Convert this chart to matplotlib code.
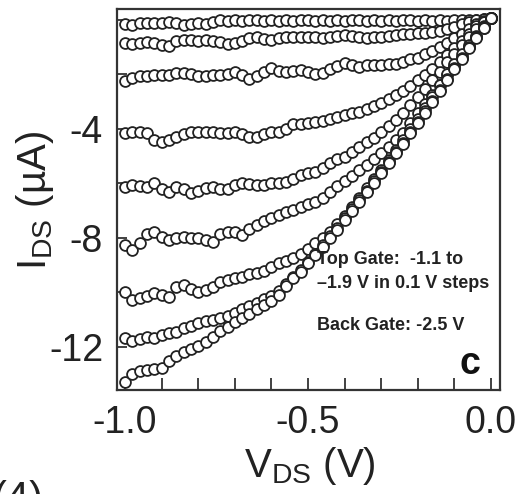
import numpy as np
import matplotlib
matplotlib.use("Agg")
import matplotlib.pyplot as plt
from matplotlib.ticker import MultipleLocator, FixedLocator

plt.rcParams['font.family'] = ['Liberation Sans', 'DejaVu Sans']
plt.rcParams['mathtext.fontset'] = 'custom'
plt.rcParams['mathtext.rm'] = 'Liberation Sans'
plt.rcParams['mathtext.it'] = 'Liberation Sans:italic'
plt.rcParams['mathtext.bf'] = 'Liberation Sans:bold'
plt.rcParams['axes.unicode_minus'] = False

# V_DS sweep (V)
vds = [-1.00, -0.98, -0.96, -0.94, -0.92, -0.90, -0.88, -0.86, -0.84, -0.82,
       -0.80, -0.78, -0.76, -0.74, -0.72, -0.70, -0.68, -0.66, -0.64, -0.62,
       -0.60, -0.58, -0.56, -0.54, -0.52, -0.50, -0.48, -0.46, -0.44, -0.42,
       -0.40, -0.38, -0.36, -0.34, -0.32, -0.30, -0.28, -0.26, -0.24, -0.22,
       -0.20, -0.18, -0.16, -0.14, -0.12, -0.10, -0.08, -0.06, -0.04, -0.02,
       0.00]

# I_DS (uA) for top gate -1.1 ... -1.9 V
ids_tg11 = [-0.15, -0.18, -0.12, -0.10, -0.12, -0.10, -0.08, -0.12, -0.20, -0.15,
            -0.10, -0.14, -0.08, -0.02, -0.03, -0.02, -0.04, -0.02, -0.01, -0.03,
            -0.02, -0.04, -0.02, -0.03, -0.01, -0.02, -0.03, -0.02, -0.04, -0.02,
            -0.03, -0.01, -0.02, -0.03, -0.02, -0.04, -0.02, -0.03, -0.02, -0.01,
            -0.03, -0.02, -0.04, -0.02, -0.03, -0.02, -0.02, -0.01, 0.00, 0.02,
            0.08]
ids_tg12 = [-0.85, -0.90, -0.86, -0.80, -0.86, -0.92, -0.94, -0.78, -0.74, -0.75,
            -0.77, -0.73, -0.76, -0.82, -0.89, -0.86, -0.76, -0.67, -0.61, -0.70,
            -0.72, -0.67, -0.62, -0.63, -0.64, -0.61, -0.64, -0.66, -0.62, -0.58,
            -0.55, -0.58, -0.62, -0.65, -0.64, -0.61, -0.58, -0.55, -0.53, -0.50,
            -0.49, -0.48, -0.45, -0.40, -0.33, -0.26, -0.16, -0.08, -0.02, 0.02,
            0.08]
ids_tg13 = [-2.24, -2.12, -2.07, -2.05, -2.02, -2.01, -2.02, -1.96, -1.94, -1.97,
            -2.05, -2.06, -2.04, -2.01, -1.98, -1.92, -2.02, -2.18, -2.05, -1.90,
            -1.77, -1.86, -1.92, -1.88, -1.84, -1.91, -2.00, -1.96, -1.80, -1.68,
            -1.58, -1.66, -1.72, -1.67, -1.65, -1.65, -1.63, -1.60, -1.54, -1.45,
            -1.38, -1.26, -1.13, -0.99, -0.84, -0.68, -0.50, -0.34, -0.16, -0.04,
            0.08]
ids_tg14 = [-4.15, -4.12, -4.13, -4.16, -4.40, -4.48, -4.42, -4.29, -4.17, -4.13,
            -4.11, -4.10, -4.13, -4.15, -4.14, -4.11, -4.18, -4.30, -4.31, -4.18,
            -4.12, -4.10, -4.02, -3.82, -3.83, -3.77, -3.74, -3.70, -3.63, -3.56,
            -3.50, -3.43, -3.38, -3.27, -3.17, -3.04, -2.92, -2.77, -2.60, -2.42,
            -2.22, -2.02, -1.80, -1.56, -1.30, -1.04, -0.76, -0.50, -0.24, -0.06,
            0.08]
ids_tg15 = [-6.13, -6.07, -6.10, -6.12, -6.00, -6.20, -6.30, -6.14, -6.22, -6.34,
            -6.28, -6.18, -6.13, -6.20, -6.22, -6.06, -5.99, -6.02, -6.06, -6.05,
            -6.00, -5.98, -5.94, -5.82, -5.70, -5.62, -5.58, -5.45, -5.26, -5.12,
            -5.02, -4.86, -4.66, -4.48, -4.32, -4.12, -3.90, -3.66, -3.42, -3.14,
            -2.84, -2.54, -2.22, -1.90, -1.56, -1.24, -0.92, -0.62, -0.32, -0.08,
            0.08]
ids_tg16 = [-8.26, -8.45, -8.20, -7.84, -7.80, -7.96, -8.07, -8.02, -7.97, -7.99,
            -8.00, -8.06, -8.15, -7.86, -7.78, -7.80, -7.90, -7.68, -7.52, -7.38,
            -7.28, -7.16, -7.06, -6.99, -6.88, -6.74, -6.70, -6.52, -6.30, -6.08,
            -5.92, -5.72, -5.52, -5.32, -5.10, -4.88, -4.66, -4.42, -4.14, -3.78,
            -3.42, -3.08, -2.74, -2.38, -2.04, -1.70, -1.36, -1.00, -0.64, -0.28,
            0.08]
ids_tg17 = [-10.00, -10.28, -10.22, -10.12, -10.02, -10.10, -10.15, -9.80, -9.72, -9.88,
            -9.98, -9.92, -9.80, -9.62, -9.55, -9.48, -9.42, -9.32, -9.28, -9.22,
            -9.05, -8.92, -8.84, -8.72, -8.58, -8.42, -8.20, -8.02, -7.78, -7.50,
            -7.18, -6.86, -6.52, -6.18, -5.84, -5.50, -5.14, -4.78, -4.42, -4.02,
            -3.62, -3.22, -2.82, -2.40, -2.00, -1.62, -1.26, -0.92, -0.58, -0.24,
            0.08]
ids_tg18 = [-11.68, -11.78, -11.72, -11.62, -11.66, -11.58, -11.50, -11.45, -11.30, -11.22,
            -11.12, -11.06, -11.00, -10.94, -10.85, -10.74, -10.62, -10.48, -10.40, -10.24,
            -10.12, -9.94, -9.68, -9.42, -9.16, -8.88, -8.58, -8.26, -7.94, -7.62,
            -7.28, -6.94, -6.60, -6.26, -5.92, -5.58, -5.22, -4.86, -4.50, -4.12,
            -3.74, -3.36, -2.96, -2.56, -2.16, -1.76, -1.38, -1.00, -0.62, -0.26,
            0.08]
ids_tg19 = [-13.30, -12.98, -12.90, -12.84, -12.80, -12.78, -12.52, -12.34, -12.20, -12.08,
            -11.98, -11.82, -11.64, -11.40, -11.26, -11.10, -10.95, -10.80, -10.62, -10.46,
            -10.32, -10.08, -9.76, -9.48, -9.24, -8.92, -8.62, -8.32, -8.02, -7.70,
            -7.36, -7.02, -6.68, -6.32, -5.98, -5.62, -5.26, -4.90, -4.54, -4.16,
            -3.78, -3.40, -3.00, -2.60, -2.20, -1.80, -1.42, -1.04, -0.66, -0.28,
            0.08]

series = [ids_tg11, ids_tg12, ids_tg13, ids_tg14, ids_tg15,
          ids_tg16, ids_tg17, ids_tg18, ids_tg19]

x_ticks = [-1.0, -0.5, 0.0]
x_ticklabels = ["-1.0", "-0.5", "0.0"]
y_ticks = [-12, -8, -4]
y_ticklabels = ["-12", "-8", "-4"]

W, H = 523, 494
fig = plt.figure(figsize=(W / 100, H / 100), dpi=100)
ax = fig.add_axes([117 / W, (H - 390) / H, 383 / W, 381 / H])

ink = '#222222'
for ids in series:
    ax.plot(vds, ids, linestyle='none', marker='o', markersize=7.8,
            markerfacecolor='white', markeredgecolor=ink, markeredgewidth=1.3,
            clip_on=True)

ax.set_xlim(-1.022, 0.0246)
ax.set_ylim(-13.58, 0.40)

ax.xaxis.set_major_locator(FixedLocator(x_ticks))
ax.set_xticklabels(x_ticklabels)
ax.xaxis.set_minor_locator(MultipleLocator(0.1))
ax.yaxis.set_major_locator(FixedLocator(y_ticks))
ax.set_yticklabels(y_ticklabels)
ax.yaxis.set_minor_locator(MultipleLocator(2))

ax.tick_params(axis='x', which='both', direction='in', length=8.5, width=1.3,
               color='#333333', top=False, labelsize=27, pad=11, labelcolor=ink)
ax.tick_params(axis='y', which='both', direction='in', length=7, width=1.3,
               color='#333333', right=False, labelsize=27, pad=10, labelcolor=ink)

for s in ax.spines.values():
    s.set_linewidth(1.6)
    s.set_color('#333333')

fig.text(310 / W, 1 - 466 / H, r'V$_{\mathrm{DS}}$ (V)', ha='center', va='center',
         fontsize=29, color=ink)
fig.text(35 / W, 1 - 200 / H, r'I$_{\mathrm{DS}}$ (µA)', ha='center', va='center',
         rotation=90, fontsize=29, color=ink)

ax.text(317 / W, 1 - 260 / H, 'Top Gate:  -1.1 to', transform=fig.transFigure,
        ha='left', va='center', fontsize=13, fontweight='bold', color=ink)
ax.text(317 / W, 1 - 283 / H, '\u20131.9 V in 0.1 V steps', transform=fig.transFigure,
        ha='left', va='center', fontsize=13, fontweight='bold', color=ink)
ax.text(317 / W, 1 - 326 / H, 'Back Gate: -2.5 V', transform=fig.transFigure,
        ha='left', va='center', fontsize=13, fontweight='bold', color=ink)
ax.text(470 / W, 1 - 364 / H, 'c', transform=fig.transFigure,
        ha='center', va='center', fontsize=27, fontweight='bold', color='#111111')

fig.text(-0.015, -0.034, '(4)', ha='left', va='baseline', fontsize=30, color=ink)

fig.savefig('out.png', dpi=100)
